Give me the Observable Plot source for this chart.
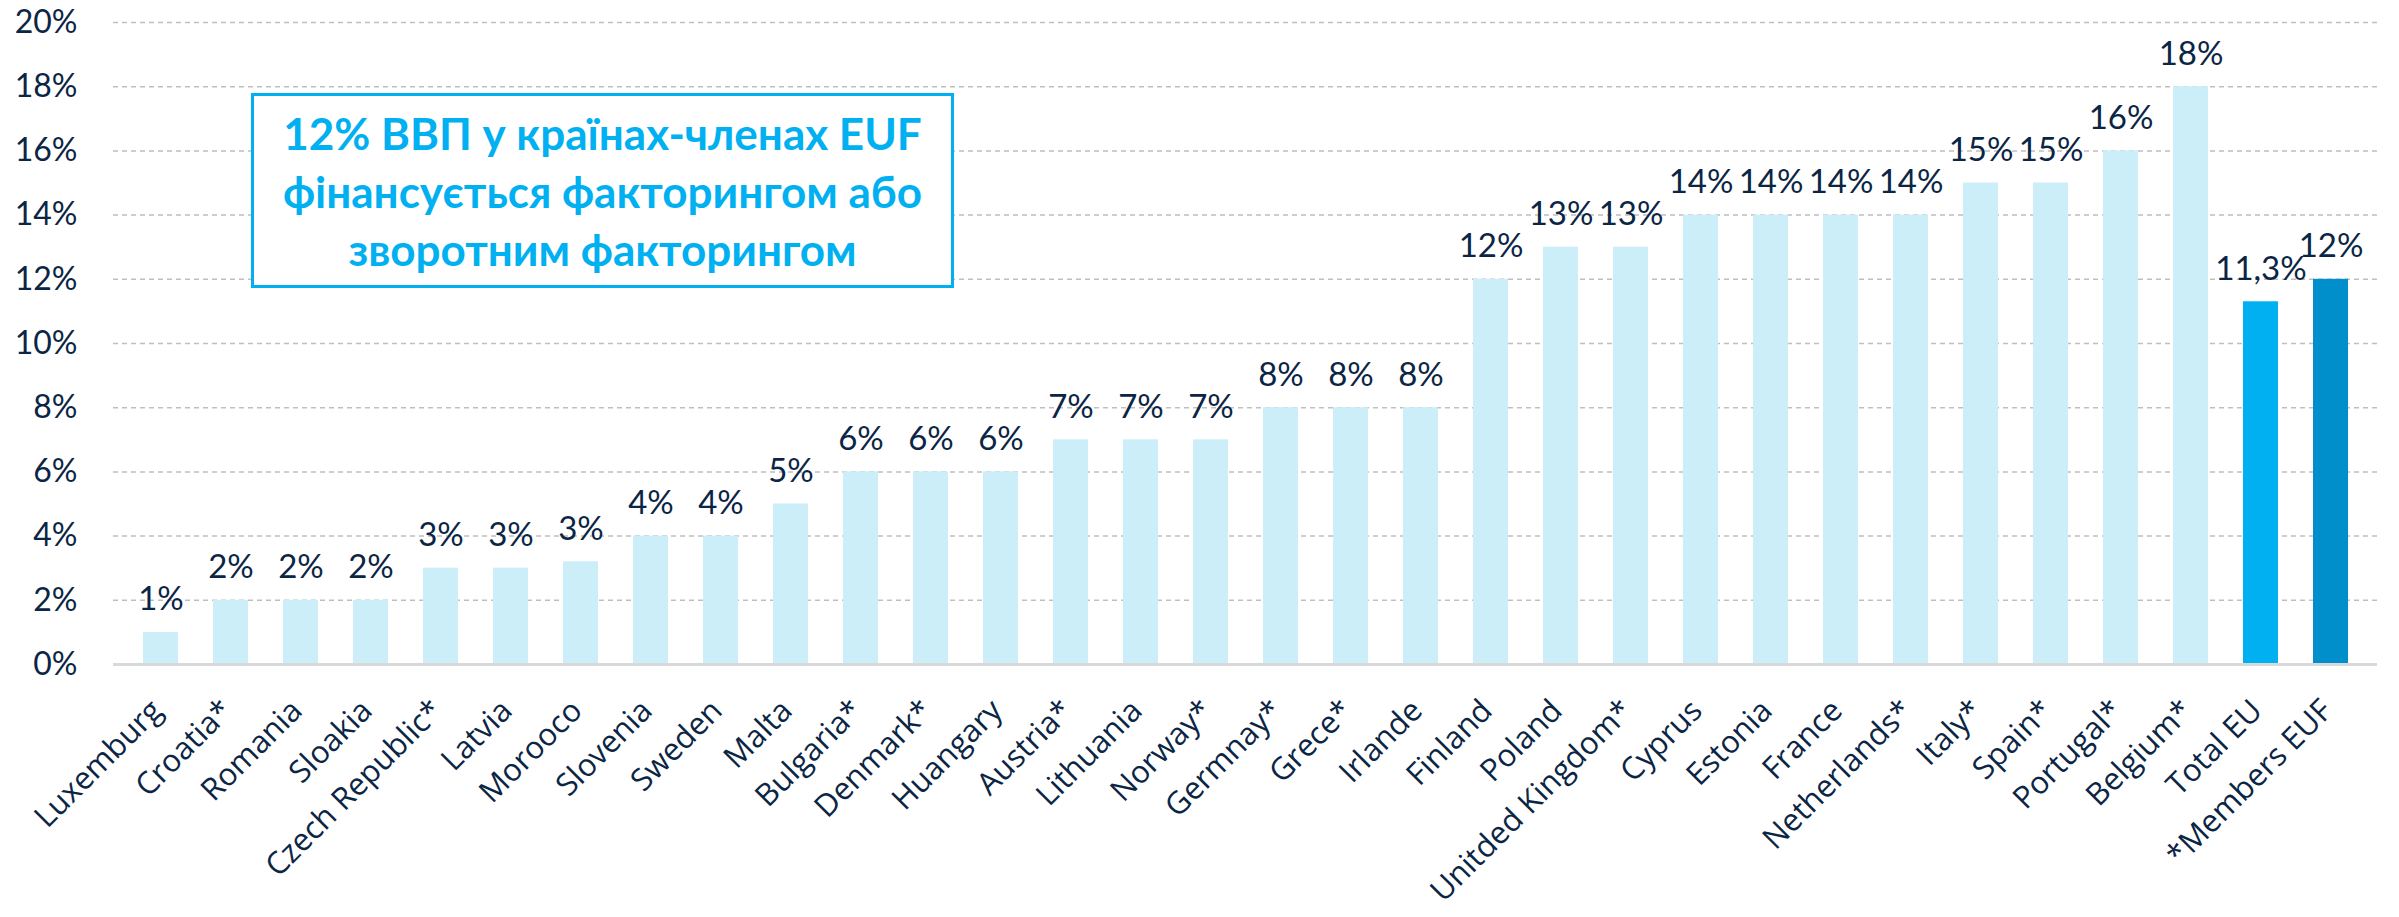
<!DOCTYPE html>
<html><head><meta charset="utf-8">
<script src="https://cdn.jsdelivr.net/npm/d3@7"></script>
<script src="https://cdn.jsdelivr.net/npm/@observablehq/plot@0.6"></script>
<style>
body{margin:0;background:#fff;}
#wrap{position:relative;width:2399px;height:917px;}
#note{position:absolute;left:251px;top:93px;width:703px;height:195px;box-sizing:border-box;border:3px solid #00B0F0;display:flex;flex-direction:column;justify-content:center;align-items:center;font-family:Lato,sans-serif;font-weight:700;font-size:44px;line-height:58px;color:#00B0F0;background:#fff;white-space:nowrap;}
</style></head><body>
<div id="wrap"><div id="note"><div>12% ВВП у країнах-членах EUF</div><div>фінансується факторингом або</div><div>зворотним факторингом</div></div></div>
<script>
const countries = ["Luxemburg","Croatia*","Romania","Sloakia","Czech Republic*","Latvia","Morooco","Slovenia","Sweden","Malta","Bulgaria*","Denmark*","Huangary","Austria*","Lithuania","Norway*","Germnay*","Grece*","Irlande","Finland","Poland","Unitded Kingdom*","Cyprus","Estonia","France","Netherlands*","Italy*","Spain*","Portugal*","Belgium*","Total EU","*Members EUF"];
const values = [1,2,2,2,3,3,3.2,4,4,5,6,6,6,7,7,7,8,8,8,12,13,13,14,14,14,14,15,15,16,18,11.3,12];
const valueLabels = ["1%","2%","2%","2%","3%","3%","3%","4%","4%","5%","6%","6%","6%","7%","7%","7%","8%","8%","8%","12%","13%","13%","14%","14%","14%","14%","15%","15%","16%","18%","11,3%","12%"];
const yTicks = [0,2,4,6,8,10,12,14,16,18,20];

const data = countries.map((name, i) => ({name, value: values[i], label: valueLabels[i]}));
const barColor = d => d.name === "Total EU" ? "#00B0F0" : d.name === "*Members EUF" ? "#008FCB" : "#CCEEF9";
const ink = "#0B2545";

const chart = Plot.plot({
  width: 2399,
  height: 917,
  marginLeft: 113,
  marginRight: 22,
  marginTop: 22,
  marginBottom: 253,
  style: {fontFamily: "Lato, sans-serif", fontSize: "32px", color: ink, background: "#fff", overflow: "visible"},
  x: {domain: countries, paddingInner: 0.5, paddingOuter: 0.25, axis: null},
  y: {domain: [0, 20], axis: null},
  color: {type: "identity"},
  marks: [
    Plot.gridY(yTicks.filter(t => t > 0), {stroke: "#BFBFBF", strokeOpacity: 1, strokeWidth: 1.5, strokeDasharray: "5,4"}),
    Plot.barY(data, {x: "name", y: "value", fill: barColor}),
    Plot.ruleY([0], {stroke: "#D9D9D9", strokeWidth: 3}),
    Plot.axisY({ticks: yTicks, label: null, tickSize: 0, tickPadding: 36, tickFormat: d => d + "%", fontSize: 32, fill: ink}),
    Plot.text(data, {x: "name", y: "value", text: "label", lineAnchor: "bottom", dy: -22, fontSize: 33, fill: ink}),
    Plot.text(data, {x: "name", text: "name", frameAnchor: "bottom", rotate: -45, textAnchor: "end", dx: 3, dy: 48, fontFamily: "Open Sans, sans-serif", fontSize: 31, fill: ink})
  ]
});
const wrap = document.getElementById("wrap");
wrap.insertBefore(chart, document.getElementById("note"));
</script>
</body></html>
